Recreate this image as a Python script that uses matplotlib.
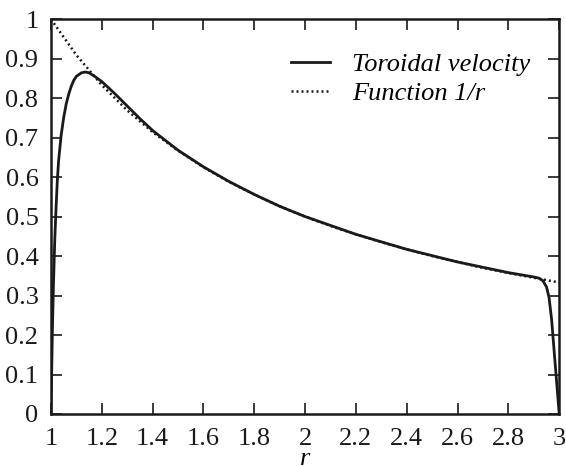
import matplotlib.pyplot as plt
from matplotlib import font_manager as fm

# toroidal velocity
r_vel = [1.0, 1.003, 1.006, 1.01, 1.015, 1.02, 1.025, 1.03, 1.04, 1.05, 1.06,
         1.07, 1.08, 1.09, 1.10, 1.12, 1.135, 1.15, 1.17, 1.20, 1.25, 1.30,
         1.35, 1.40, 1.50, 1.60, 1.70, 1.80, 1.90, 2.00, 2.20, 2.40, 2.60,
         2.80, 2.90, 2.92, 2.935, 2.95, 2.96, 2.97, 2.98, 2.99, 3.0]
v_vel = [0.0, 0.11, 0.22, 0.33, 0.44, 0.52, 0.59, 0.64, 0.705, 0.75, 0.785,
         0.81, 0.83, 0.845, 0.855, 0.864, 0.866, 0.864, 0.856, 0.842, 0.812, 0.780,
         0.748, 0.718, 0.668, 0.626, 0.589, 0.556, 0.526, 0.500, 0.455, 0.417, 0.385,
         0.358, 0.347, 0.344, 0.338, 0.322, 0.295, 0.24, 0.16, 0.08, 0.0]

# dotted reference curve
r_ref = [1.0, 1.1, 1.2, 1.3, 1.4, 1.5, 1.6, 1.7, 1.8, 1.9, 2.0, 2.1, 2.2, 2.3,
         2.4, 2.5, 2.6, 2.7, 2.8, 2.9, 3.0]
v_ref = [1.0, 0.909, 0.833, 0.769, 0.714, 0.667, 0.625, 0.588, 0.556, 0.526,
         0.5, 0.476, 0.455, 0.435, 0.417, 0.4, 0.385, 0.370, 0.357, 0.345, 0.333]

x_ticks = [1, 1.2, 1.4, 1.6, 1.8, 2, 2.2, 2.4, 2.6, 2.8, 3]
y_ticks = [0, 0.1, 0.2, 0.3, 0.4, 0.5, 0.6, 0.7, 0.8, 0.9, 1]

# pin the Times-like font files directly
reg_path = fm.findfont(fm.FontProperties(family='Liberation Serif'))
it_path = fm.findfont(fm.FontProperties(family='Liberation Serif', style='italic'))
font_reg = fm.FontProperties(fname=reg_path, size=19)
font_it = fm.FontProperties(fname=it_path, size=19)

fig = plt.figure(figsize=(5.66, 4.66), dpi=100)
ax = fig.add_axes([0.090, 0.1116, 0.898, 0.8474])

ax.plot(r_vel, v_vel, color='#1a1a1a', lw=2.0, label='Toroidal velocity')
ax.plot(r_ref, v_ref, color='#1a1a1a', lw=1.8, linestyle=(0, (0.8, 1.2)),
        label='Function 1/r')

ax.set_xlim(1, 3)
ax.set_ylim(0, 1)
ax.set_xticks(x_ticks)
ax.set_yticks(y_ticks)
ax.tick_params(axis='both', direction='in', length=8, width=1.2,
               top=True, right=True, colors='#1a1a1a')
ax.tick_params(axis='x', pad=10)
ax.tick_params(axis='y', pad=9)
ax.set_xticklabels([f'{t:g}' for t in x_ticks], fontproperties=font_reg)
ax.set_yticklabels([f'{t:g}' for t in y_ticks], fontproperties=font_reg)
for s in ax.spines.values():
    s.set_linewidth(1.8)
    s.set_color('#1a1a1a')

ax.set_xlabel('r', fontproperties=font_it, labelpad=-1)

leg = ax.legend(loc='upper right', frameon=False, prop=font_it,
                handlelength=1.45, handletextpad=0.85, labelspacing=0.2,
                bbox_to_anchor=(0.99, 0.975))

fig.savefig('out.png', dpi=100)
